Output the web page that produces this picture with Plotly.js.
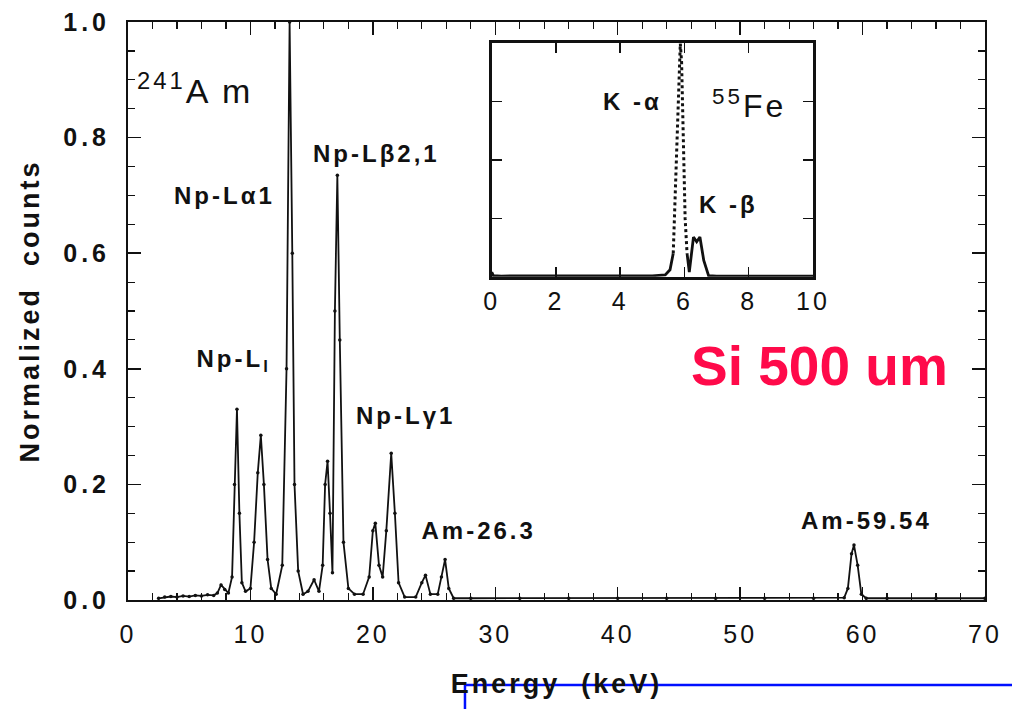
<!DOCTYPE html>
<html>
<head>
<meta charset="utf-8">
<script src="https://cdn.plot.ly/plotly-3.0.1.min.js"></script>
<style>
  html, body { margin: 0; padding: 0; background: #fff; }
  #chart { width: 1012px; height: 709px; }
  .ytick text { letter-spacing: 4px; }
  .xtick text, .x2tick text { letter-spacing: 3px; }
  .g-xtitle text, .g-ytitle text { letter-spacing: 3px; }
</style>
</head>
<body>
<div id="chart"></div>
<script>
// Main 241Am spectrum (energy keV, normalized counts)
const energy = [2.5, 3.0, 3.5, 4.0, 4.5, 5.0, 5.5, 6.0, 6.5, 7.0, 7.3, 7.6, 7.9, 8.2, 8.5, 8.7, 8.9, 9.1, 9.3, 9.6, 10.0, 10.3, 10.6, 10.85, 11.1, 11.4, 11.7, 12.1, 12.6, 12.95, 13.2, 13.42, 13.6, 13.9, 14.3, 14.7, 15.2, 15.6, 15.9, 16.1, 16.3, 16.5, 16.7, 16.9, 17.1, 17.3, 17.6, 18.0, 18.5, 19.2, 19.7, 20.0, 20.2, 20.5, 20.8, 21.1, 21.5, 21.8, 22.1, 22.6, 23.5, 24.0, 24.3, 24.7, 25.3, 25.6, 25.9, 26.2, 26.6, 28, 32, 36, 40, 44, 48, 52, 56, 58.5, 58.8, 59.1, 59.3, 59.6, 59.9, 60.3, 62, 66, 70];
const counts = [0.003, 0.005, 0.006, 0.005, 0.007, 0.006, 0.008, 0.007, 0.009, 0.008, 0.012, 0.026, 0.018, 0.012, 0.04, 0.2, 0.33, 0.15, 0.03, 0.015, 0.02, 0.1, 0.22, 0.285, 0.2, 0.07, 0.02, 0.01, 0.06, 0.4, 1.0, 0.6, 0.2, 0.05, 0.01, 0.015, 0.035, 0.015, 0.06, 0.2, 0.24, 0.15, 0.047, 0.5, 0.735, 0.45, 0.1, 0.02, 0.01, 0.01, 0.04, 0.12, 0.133, 0.06, 0.04, 0.12, 0.254, 0.15, 0.03, 0.005, 0.005, 0.03, 0.043, 0.01, 0.01, 0.04, 0.07, 0.02, 0.003, 0.003, 0.003, 0.003, 0.003, 0.003, 0.003, 0.003, 0.003, 0.004, 0.02, 0.08, 0.095, 0.06, 0.01, 0.003, 0.003, 0.003, 0.003];

// Inset 55Fe spectrum
const feEnergySolidA = [0, 0.05, 0.3, 1, 2, 3, 4, 5, 5.4, 5.55, 5.65];
const feCountsSolidA = [0.02, 0.005, 0.003, 0.003, 0.003, 0.003, 0.003, 0.004, 0.008, 0.03, 0.1];
const feEnergyKa = [5.65, 5.72, 5.78, 5.83, 5.87, 5.91, 5.96, 6.02, 6.08];
const feCountsKa = [0.1, 0.4, 0.7, 0.92, 1.0, 0.92, 0.55, 0.25, 0.1];
const feEnergySolidB = [6.08, 6.15, 6.28, 6.38, 6.48, 6.6, 6.75, 7.0, 8, 9, 10];
const feCountsSolidB = [0.1, 0.02, 0.17, 0.15, 0.17, 0.07, 0.005, 0.003, 0.003, 0.003, 0.003];

const xTickVals = [0, 10, 20, 30, 40, 50, 60, 70];
const yTickVals = [0, 0.2, 0.4, 0.6, 0.8, 1.0];
const yTickText = ["0.0", "0.2", "0.4", "0.6", "0.8", "1.0"];
const insetXTickVals = [0, 2, 4, 6, 8, 10];

const FONT = "Liberation Sans, Arial, Helvetica, sans-serif";
const INK = "#111";

const traces = [
  { x: energy, y: counts, type: "scatter", mode: "lines+markers",
    line: { color: INK, width: 1.8 }, marker: { color: INK, size: 3.5 },
    xaxis: "x", yaxis: "y", showlegend: false, hoverinfo: "skip" },
  { x: feEnergySolidA, y: feCountsSolidA, type: "scatter", mode: "lines",
    line: { color: INK, width: 2.8 }, xaxis: "x2", yaxis: "y2", showlegend: false },
  { x: feEnergyKa, y: feCountsKa, type: "scatter", mode: "lines",
    line: { color: INK, width: 3, dash: "dot" }, xaxis: "x2", yaxis: "y2", showlegend: false },
  { x: feEnergySolidB, y: feCountsSolidB, type: "scatter", mode: "lines",
    line: { color: INK, width: 2.8 }, xaxis: "x2", yaxis: "y2", showlegend: false },
  // invisible anchors for the mirrored tick axes (top / right)
  { x: [0], y: [0], type: "scatter", mode: "markers", marker: { opacity: 0 }, xaxis: "x3", yaxis: "y3", showlegend: false, hoverinfo: "skip" }
];

const annFont = { family: FONT, size: 24, color: INK, weight: "bold" };
const ann = (x, y, text, extra) => Object.assign({ x, y, xref: "x", yref: "y", text, showarrow: false, font: annFont, xanchor: "center", yanchor: "middle" }, extra || {});

const tickCommon = { ticks: "inside", tickwidth: 1.5, tickcolor: INK, showgrid: false, zeroline: false };

const layout = {
  width: 1012, height: 709,
  margin: { l: 128, r: 27, t: 22, b: 109 },
  paper_bgcolor: "#fff", plot_bgcolor: "rgba(0,0,0,0)",
  showlegend: false,
  xaxis: Object.assign({}, tickCommon, {
    range: [0, 70], tickvals: xTickVals, ticklen: 13,
    showline: true, linecolor: INK, linewidth: 2, mirror: true,
    minor: { dtick: 2, ticks: "inside", ticklen: 7, tickwidth: 1.2, tickcolor: INK, showgrid: false },
    tickfont: { family: FONT, size: 25, color: INK }, ticklabelstandoff: 11,
    title: { text: "Energy  (keV)", font: { family: FONT, size: 27, color: INK, weight: "bold" }, standoff: 27 },
    automargin: false
  }),
  yaxis: Object.assign({}, tickCommon, {
    range: [0, 1.0], tickvals: yTickVals, ticktext: yTickText, ticklen: 13,
    showline: true, linecolor: INK, linewidth: 2, mirror: true,
    minor: { dtick: 0.05, ticks: "inside", ticklen: 7, tickwidth: 1.2, tickcolor: INK, showgrid: false },
    tickfont: { family: FONT, size: 25, color: INK, weight: "bold" }, ticklabelstandoff: 11,
    title: { text: "Normalized  counts", font: { family: FONT, size: 27, color: INK, weight: "bold" }, standoff: 16 },
    automargin: false
  }),
  xaxis3: Object.assign({}, tickCommon, {
    overlaying: "x", side: "top", anchor: "y3", range: [0, 70], tickvals: xTickVals, ticklen: 13,
    showticklabels: false, showline: false,
    minor: { dtick: 2, ticks: "inside", ticklen: 7, tickwidth: 1.2, tickcolor: INK, showgrid: false }
  }),
  yaxis3: Object.assign({}, tickCommon, {
    overlaying: "y", side: "right", anchor: "x3", range: [0, 1.0], tickvals: yTickVals, ticklen: 13,
    showticklabels: false, showline: false,
    minor: { dtick: 0.05, ticks: "inside", ticklen: 7, tickwidth: 1.2, tickcolor: INK, showgrid: false }
  }),
  xaxis2: Object.assign({}, tickCommon, {
    domain: [0.4244, 0.7993], anchor: "y2", range: [0, 10], tickvals: insetXTickVals,
    ticklen: 10, showline: true, linecolor: INK, linewidth: 3, mirror: "ticks",
    tickfont: { family: FONT, size: 25, color: INK }
  }),
  yaxis2: Object.assign({}, tickCommon, {
    domain: [0.5593, 0.963], anchor: "x2", range: [0, 1.0], dtick: 0.25,
    ticklen: 10, showline: true, linecolor: INK, linewidth: 3, mirror: "ticks",
    showticklabels: false
  }),
  annotations: [
    ann(5.5, 0.885, "<sup>241</sup>A m", { font: { family: FONT, size: 34, color: INK } }),
    ann(7.9, 0.70, "Np-Lα1"),
    ann(20.3, 0.772, "Np-Lβ2,1"),
    ann(8.6, 0.415, "Np-L<sub>l</sub>"),
    ann(22.7, 0.32, "Np-Lγ1"),
    ann(28.6, 0.12, "Am-26.3"),
    ann(60.3, 0.138, "Am-59.54"),
    ann(56.5, 0.405, "Si 500 um", { font: { family: FONT, size: 55, color: "#ff0a4a", weight: "bold" } }),
    { x: 4.37, y: 0.75, xref: "x2", yref: "y2", text: "K -α", showarrow: false, font: annFont },
    { x: 8.0, y: 0.74, xref: "x2", yref: "y2", text: "<sup>55</sup>Fe", showarrow: false, font: { family: FONT, size: 32, color: INK } },
    { x: 7.37, y: 0.31, xref: "x2", yref: "y2", text: "K -β", showarrow: false, font: annFont }
  ],
  shapes: [
    { type: "line", xref: "paper", yref: "paper", x0: 0.3932, x1: 1.04, y0: -0.147, y1: -0.147, line: { color: "#0010ff", width: 2.5 } },
    { type: "line", xref: "paper", yref: "paper", x0: 0.3932, x1: 0.3932, y0: -0.147, y1: -0.2, line: { color: "#0010ff", width: 2.5 } }
  ]
};

Plotly.newPlot("chart", traces, layout, { staticPlot: true, displayModeBar: false }).then(function (gd) {
  gd.querySelectorAll(".annotation-text").forEach(function (t) {
    if (t.textContent.indexOf("Si 500") === -1) { t.style.letterSpacing = "3px"; }
  });
});
</script>
</body>
</html>
